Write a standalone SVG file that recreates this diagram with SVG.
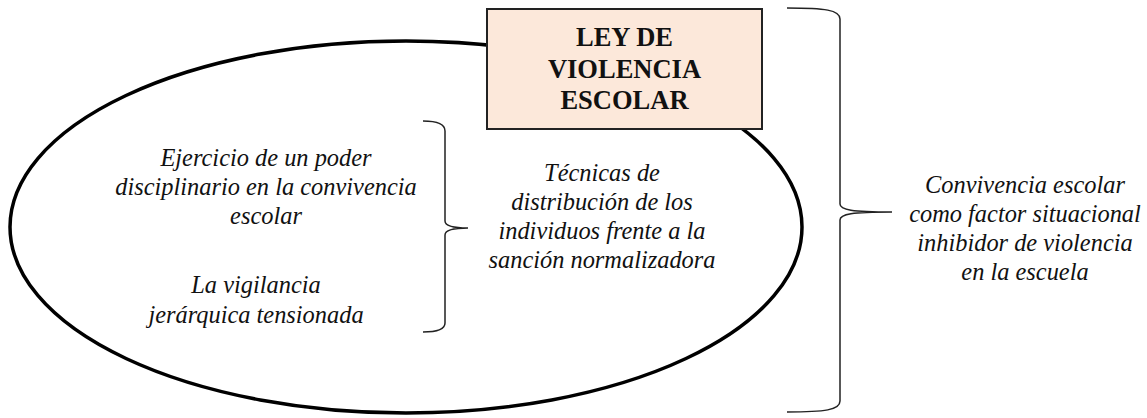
<svg xmlns="http://www.w3.org/2000/svg" width="1147" height="418" viewBox="0 0 1147 418">
<style>
.it{font-family:"Liberation Serif","Times New Roman",serif;font-style:italic;font-size:24.4px;fill:#111;text-anchor:middle}
.tt{font-family:"Liberation Serif","Times New Roman",serif;font-weight:bold;font-size:26.5px;fill:#111;text-anchor:middle}
.brace{fill:none;stroke:#222;stroke-width:1.5}
</style>
<rect width="1147" height="418" fill="#fff"/>
<g id="ellipse">
<ellipse cx="406" cy="227" rx="396" ry="186" fill="none" stroke="#000" stroke-width="3.5"/>
</g>
<g id="ley">
<rect x="487" y="9" width="275" height="120" fill="#FCE8DA" stroke="#222" stroke-width="2"/>
<text class="tt" x="624.5" y="46">LEY DE</text>
<text class="tt" x="624.5" y="78">VIOLENCIA</text>
<text class="tt" x="624.5" y="109">ESCOLAR</text>
</g>
<g id="connectors">
<path class="brace" d="M423,121 C436,121 445,123 445,131 L445,221 C445,226 452,228 468,228 C452,228 445,230 445,235 L445,323 C445,330 436,332 423,332"/>
<path class="brace" d="M787,8 C825,8 840,10 840,19 L840,204 C840,210 852,212 892,212 C852,212 840,214 840,220 L840,401 C840,410 825,412 787,412"/>
</g>
<g id="ejercicio">
<text class="it" x="266" y="166">Ejercicio de un poder</text>
<text class="it" x="266" y="195">disciplinario en la convivencia</text>
<text class="it" x="266" y="224">escolar</text>
</g>
<g id="vigilancia">
<text class="it" x="256" y="293">La vigilancia</text>
<text class="it" x="256" y="323">jerárquica tensionada</text>
</g>
<g id="tecnicas">
<text class="it" x="602" y="181">Técnicas de</text>
<text class="it" x="602" y="210">distribución de los</text>
<text class="it" x="602" y="239">individuos frente a la</text>
<text class="it" x="602" y="268">sanción normalizadora</text>
</g>
<g id="convivencia">
<text class="it" x="1025" y="193">Convivencia escolar</text>
<text class="it" x="1025" y="222">como factor situacional</text>
<text class="it" x="1025" y="251">inhibidor de violencia</text>
<text class="it" x="1025" y="280">en la escuela</text>
</g>
</svg>
